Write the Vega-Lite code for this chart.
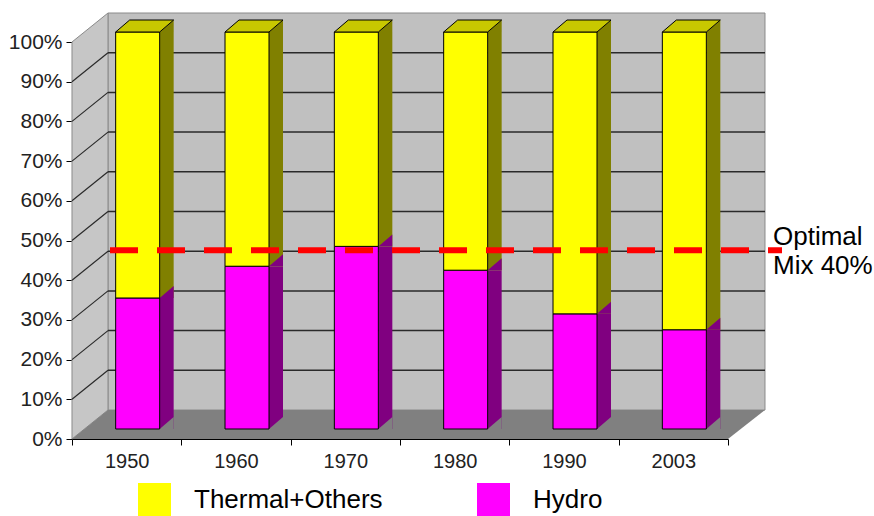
{
  "$schema": "https://vega.github.io/schema/vega-lite/v6.json",
  "width": 656,
  "height": 397,
  "autosize": {"type": "none"},
  "padding": {"left": 72, "top": 42, "right": 146, "bottom": 77},
  "background": "white",
  "config": {
    "view": {"stroke": null},
    "font": "Liberation Sans",
    "axis": {"grid": false, "title": null, "labelFont": "Liberation Sans", "tickColor": "#000000", "domainColor": "#000000", "labelColor": "#222222", "tickSize": 6},
    "axisY": {"labelOverlap": false, "labelFontSize": 21, "labelPadding": 4},
    "axisX": {"labelAlign": "center", "labelFontSize": 20, "labelPadding": 6, "labelAngle": 0}
  },
  "datasets": {
    "mix": [
      {"year": "1950", "series": "Hydro", "value": 33},
      {"year": "1950", "series": "Thermal+Others", "value": 67},
      {"year": "1960", "series": "Hydro", "value": 41},
      {"year": "1960", "series": "Thermal+Others", "value": 59},
      {"year": "1970", "series": "Hydro", "value": 46},
      {"year": "1970", "series": "Thermal+Others", "value": 54},
      {"year": "1980", "series": "Hydro", "value": 40},
      {"year": "1980", "series": "Thermal+Others", "value": 60},
      {"year": "1990", "series": "Hydro", "value": 29},
      {"year": "1990", "series": "Thermal+Others", "value": 71},
      {"year": "2003", "series": "Hydro", "value": 25},
      {"year": "2003", "series": "Thermal+Others", "value": 75}
    ],
    "grid": [
      {"v": 10}, {"v": 20}, {"v": 30}, {"v": 40}, {"v": 50},
      {"v": 60}, {"v": 70}, {"v": 80}, {"v": 90}
    ],
    "optimal": [{"level": 40}]
  },
  "data": {"name": "mix"},
  "resolve": {"scale": {"color": "independent"}},
  "layer": [
    {
      "data": {"values": [{}]},
      "mark": {"type": "point", "shape": "M36,-29 L693,-29 L693,-426 L36,-426 Z", "size": 4, "filled": true, "opacity": 1, "fill": "#c0c0c0", "stroke": "#8a8a8a", "strokeWidth": 1, "xOffset": -54.667},
      "encoding": {
        "x": {"datum": "1950", "type": "ordinal", "title": null, "scale": {"paddingInner": 0, "paddingOuter": 0}, "axis": {"tickBand": "extent", "labelAlign": "center", "labelAngle": 0}},
        "y": {"datum": 0, "type": "quantitative", "title": null, "scale": {"domain": [0, 100], "nice": false}, "axis": {"values": [0, 10, 20, 30, 40, 50, 60, 70, 80, 90, 100], "labelOverlap": false, "labelExpr": "datum.value + '%'"}}
      }
    },
    {
      "data": {"values": [{}]},
      "mark": {"type": "point", "shape": "M0,0 L0,-397 L36,-426 L36,-29 Z", "size": 4, "filled": true, "opacity": 1, "fill": "#c6c6c6", "stroke": "#8a8a8a", "strokeWidth": 1, "xOffset": -54.667},
      "encoding": {
        "x": {"datum": "1950", "type": "ordinal", "title": null, "axis": {"tickBand": "extent", "labelAlign": "center", "labelAngle": 0}},
        "y": {"datum": 0, "type": "quantitative", "title": null, "axis": {"values": [0, 10, 20, 30, 40, 50, 60, 70, 80, 90, 100], "labelOverlap": false, "labelExpr": "datum.value + '%'"}}
      }
    },
    {
      "data": {"values": [{}]},
      "mark": {"type": "point", "shape": "M0,0 L656,0 L693,-29 L36,-29 Z", "size": 4, "filled": true, "opacity": 1, "fill": "#808080", "strokeWidth": 0, "xOffset": -54.667},
      "encoding": {
        "x": {"datum": "1950", "type": "ordinal", "title": null, "axis": {"tickBand": "extent", "labelAlign": "center", "labelAngle": 0}},
        "y": {"datum": 0, "type": "quantitative", "title": null, "axis": {"values": [0, 10, 20, 30, 40, 50, 60, 70, 80, 90, 100], "labelOverlap": false, "labelExpr": "datum.value + '%'"}}
      }
    },
    {
      "data": {"name": "grid"},
      "mark": {"type": "rule", "color": "#2a2a2a", "strokeWidth": 1.5, "xOffset": -18.667, "x2Offset": 91.667, "yOffset": -29},
      "encoding": {
        "x": {"datum": "1950", "type": "ordinal", "title": null, "axis": {"tickBand": "extent", "labelAlign": "center", "labelAngle": 0}},
        "x2": {"datum": "2003"},
        "y": {"field": "v", "type": "quantitative", "title": null, "axis": {"values": [0, 10, 20, 30, 40, 50, 60, 70, 80, 90, 100], "labelOverlap": false, "labelExpr": "datum.value + '%'"}}
      }
    },
    {
      "data": {"name": "grid"},
      "mark": {"type": "rule", "color": "#2a2a2a", "strokeWidth": 1.2, "xOffset": -54.667, "x2Offset": -18.667, "y2Offset": -29},
      "encoding": {
        "x": {"datum": "1950", "type": "ordinal", "title": null, "axis": {"tickBand": "extent", "labelAlign": "center", "labelAngle": 0}},
        "x2": {"datum": "1950"},
        "y": {"field": "v", "type": "quantitative", "title": null, "axis": {"values": [0, 10, 20, 30, 40, 50, 60, 70, 80, 90, 100], "labelOverlap": false, "labelExpr": "datum.value + '%'"}},
        "y2": {"field": "v"}
      }
    },
    {
      "mark": {"type": "bar", "width": 14, "xOffset": 40, "yOffset": -10, "y2Offset": -10},
      "encoding": {
        "x": {"field": "year", "type": "ordinal", "title": null, "axis": {"tickBand": "extent", "labelAlign": "center", "labelAngle": 0}},
        "y": {"field": "value", "type": "quantitative", "stack": "zero", "title": null, "axis": {"values": [0, 10, 20, 30, 40, 50, 60, 70, 80, 90, 100], "labelOverlap": false, "labelExpr": "datum.value + '%'"}},
        "color": {"field": "series", "type": "nominal", "scale": {"domain": ["Thermal+Others", "Hydro"], "range": ["#808000", "#800080"]}, "legend": null},
        "order": {"field": "series", "sort": "ascending"}
      }
    },
    {
      "transform": [{"filter": "datum.series === 'Hydro'"}],
      "mark": {"type": "point", "shape": "M0,0 L14,-12 L14,0 Z", "size": 4, "filled": true, "opacity": 1, "fill": "#800080", "strokeWidth": 0, "xOffset": 33, "yOffset": -10},
      "encoding": {
        "x": {"field": "year", "type": "ordinal", "title": null, "axis": {"tickBand": "extent", "labelAlign": "center", "labelAngle": 0}},
        "y": {"field": "value", "type": "quantitative", "title": null, "axis": {"values": [0, 10, 20, 30, 40, 50, 60, 70, 80, 90, 100], "labelOverlap": false, "labelExpr": "datum.value + '%'"}}
      }
    },
    {
      "transform": [{"filter": "datum.series === 'Hydro'"}],
      "mark": {"type": "point", "shape": "M0,0 L14,-12 L14,0 Z", "size": 4, "filled": true, "opacity": 1, "fill": "#808000", "strokeWidth": 0, "xOffset": 33, "yOffset": -10},
      "encoding": {
        "x": {"field": "year", "type": "ordinal", "title": null, "axis": {"tickBand": "extent", "labelAlign": "center", "labelAngle": 0}},
        "y": {"datum": 100, "type": "quantitative", "title": null, "axis": {"values": [0, 10, 20, 30, 40, 50, 60, 70, 80, 90, 100], "labelOverlap": false, "labelExpr": "datum.value + '%'"}}
      }
    },
    {
      "transform": [{"filter": "datum.series === 'Hydro'"}],
      "mark": {"type": "point", "shape": "M0,0 L14,-12 L14,0 Z", "size": 4, "filled": true, "opacity": 1, "fill": "#808080", "strokeWidth": 0, "xOffset": 33, "yOffset": -10},
      "encoding": {
        "x": {"field": "year", "type": "ordinal", "title": null, "axis": {"tickBand": "extent", "labelAlign": "center", "labelAngle": 0}},
        "y": {"datum": 0, "type": "quantitative", "title": null, "axis": {"values": [0, 10, 20, 30, 40, 50, 60, 70, 80, 90, 100], "labelOverlap": false, "labelExpr": "datum.value + '%'"}}
      }
    },
    {
      "mark": {"type": "bar", "width": 44, "xOffset": 11, "yOffset": -10, "y2Offset": -10, "stroke": "#000000", "strokeWidth": 1},
      "encoding": {
        "x": {"field": "year", "type": "ordinal", "title": null, "axis": {"tickBand": "extent", "labelAlign": "center", "labelAngle": 0}},
        "y": {"field": "value", "type": "quantitative", "stack": "zero", "title": null, "axis": {"values": [0, 10, 20, 30, 40, 50, 60, 70, 80, 90, 100], "labelOverlap": false, "labelExpr": "datum.value + '%'"}},
        "color": {
          "field": "series", "type": "nominal",
          "scale": {"domain": ["Thermal+Others", "Hydro"], "range": ["#ffff00", "#ff00ff"]},
          "legend": {"orient": "none", "legendX": 66, "legendY": 441, "direction": "horizontal", "title": null, "symbolType": "square", "symbolSize": 1089, "symbolStrokeWidth": 0, "symbolOpacity": 1, "labelFontSize": 26, "labelOffset": 23, "labelLimit": 400, "columnPadding": 94, "labelColor": "#000000", "labelFont": "Liberation Sans"}
        },
        "order": {"field": "series", "sort": "ascending"}
      }
    },
    {
      "transform": [{"filter": "datum.series === 'Hydro'"}],
      "mark": {"type": "point", "shape": "M0,0 L44,0 L58,-12 L14,-12 Z", "size": 4, "filled": true, "opacity": 1, "fill": "#c8c800", "stroke": "#000000", "strokeWidth": 1, "xOffset": -11, "yOffset": -10},
      "encoding": {
        "x": {"field": "year", "type": "ordinal", "title": null, "axis": {"tickBand": "extent", "labelAlign": "center", "labelAngle": 0}},
        "y": {"datum": 100, "type": "quantitative", "title": null, "axis": {"values": [0, 10, 20, 30, 40, 50, 60, 70, 80, 90, 100], "labelOverlap": false, "labelExpr": "datum.value + '%'"}}
      }
    },
    {
      "data": {"name": "optimal"},
      "mark": {"type": "rule", "color": "#ff0000", "strokeWidth": 6, "strokeDash": [28, 19], "xOffset": -16.667, "x2Offset": 108.667, "yOffset": -30},
      "encoding": {
        "x": {"datum": "1950", "type": "ordinal", "title": null, "axis": {"tickBand": "extent", "labelAlign": "center", "labelAngle": 0}},
        "x2": {"datum": "2003"},
        "y": {"field": "level", "type": "quantitative", "title": null, "axis": {"values": [0, 10, 20, 30, 40, 50, 60, 70, 80, 90, 100], "labelOverlap": false, "labelExpr": "datum.value + '%'"}}
      }
    },
    {
      "data": {"name": "optimal"},
      "mark": {"type": "text", "text": ["Optimal", "Mix 40%"], "align": "left", "baseline": "alphabetic", "fontSize": 26, "lineHeight": 29, "font": "Liberation Sans", "color": "#000000", "xOffset": 99.667, "yOffset": -35},
      "encoding": {
        "x": {"datum": "2003", "type": "ordinal", "title": null, "axis": {"tickBand": "extent", "labelAlign": "center", "labelAngle": 0}},
        "y": {"field": "level", "type": "quantitative", "title": null, "axis": {"values": [0, 10, 20, 30, 40, 50, 60, 70, 80, 90, 100], "labelOverlap": false, "labelExpr": "datum.value + '%'"}}
      }
    }
  ]
}
